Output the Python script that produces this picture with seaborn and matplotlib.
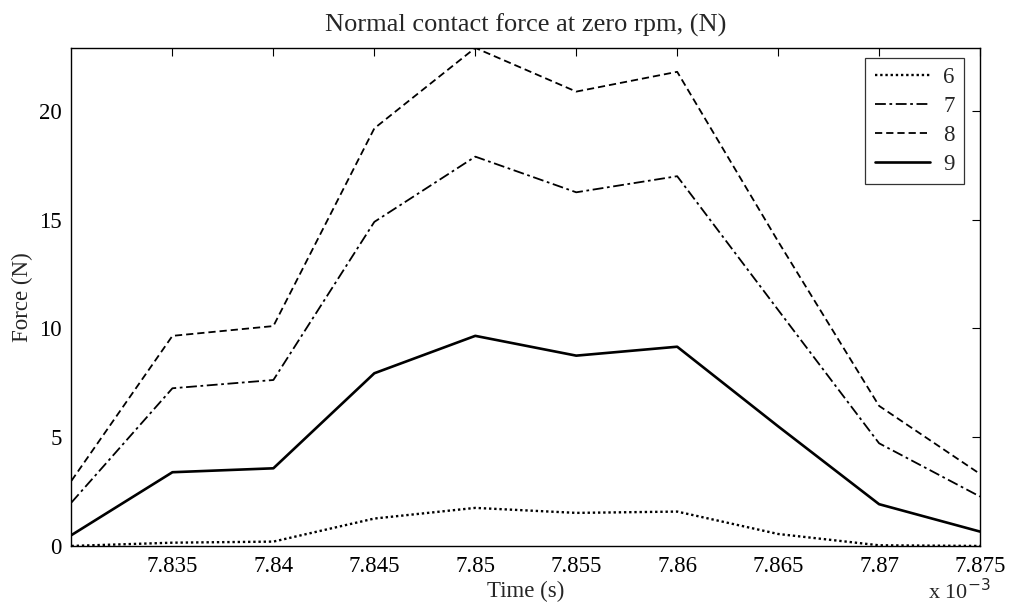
import pandas as pd
import matplotlib.pyplot as plt
import seaborn as sns

# time in units of 1e-3 s
time_ms = [7.830, 7.835, 7.840, 7.845, 7.850, 7.855, 7.860, 7.865, 7.870, 7.875]
force_6 = [0.0, 0.15, 0.2, 1.26, 1.75, 1.52, 1.58, 0.55, 0.03, 0.0]
force_7 = [2.0, 7.25, 7.63, 14.9, 17.9, 16.26, 17.0, 10.85, 4.72, 2.27]
force_8 = [3.0, 9.66, 10.11, 19.2, 22.9, 20.89, 21.8, 14.0, 6.44, 3.31]
force_9 = [0.5, 3.39, 3.57, 7.94, 9.66, 8.75, 9.16, 5.5, 1.92, 0.66]
labels = ['6', '7', '8', '9']

sns.set_theme(style='white')
plt.rcParams['font.family'] = ['Liberation Serif', 'DejaVu Serif']

df = pd.DataFrame({'time': time_ms * 4,
                   'force': force_6 + force_7 + force_8 + force_9,
                   'case': [l for l in labels for _ in time_ms]})

fig = plt.figure(figsize=(10.14, 6.10), dpi=100)
ax = fig.add_axes([0.0705, 0.105, 0.896, 0.8165])

styles = {'6': ((1, 1.2), 1.7), '7': ((6, 2, 1.5, 2), 1.3),
          '8': ((4, 2.2), 1.3), '9': ('', 1.9)}
for lab in labels:
    dash, lw = styles[lab]
    sub = df[df['case'] == lab]
    sns.lineplot(data=sub, x='time', y='force', color='black', lw=lw,
                 ax=ax, label=lab)
    if dash:
        ax.lines[-1].set_dashes(dash)

ax.set_xlim(7.830, 7.875)
ax.set_ylim(0, 22.9)
ax.set_xticks([7.835, 7.84, 7.845, 7.85, 7.855, 7.86, 7.865, 7.87, 7.875])
ax.set_xticklabels(['7.835', '7.84', '7.845', '7.85', '7.855', '7.86', '7.865', '7.87', '7.875'])
ax.set_yticks([0, 5, 10, 15, 20])
ax.tick_params(direction='in', length=6, width=0.8, top=True, right=True,
               labelsize=16.5, colors='black', pad=7)
for s in ax.spines.values():
    s.set_color('black')
    s.set_linewidth(1.0)

ax.set_xlabel('Time (s)', fontsize=16.5, labelpad=3)
ax.set_ylabel('Force (N)', fontsize=16.5, labelpad=4)
ax.set_title('Normal contact force at zero rpm, (N)', fontsize=19, pad=12)
fig.text(0.915, 0.01, r'x 10$^{-3}$', fontsize=16, ha='left', va='bottom')

leg = ax.legend(loc='upper right', fontsize=16.5, handlelength=2.4,
                frameon=True, fancybox=False, borderpad=0.4,
                labelspacing=0.35, handletextpad=0.6, borderaxespad=0,
                bbox_to_anchor=(0.9824, 0.98))
leg.get_frame().set_edgecolor('black')
leg.get_frame().set_linewidth(0.9)

fig.savefig('out.png', dpi=100, facecolor='white')
